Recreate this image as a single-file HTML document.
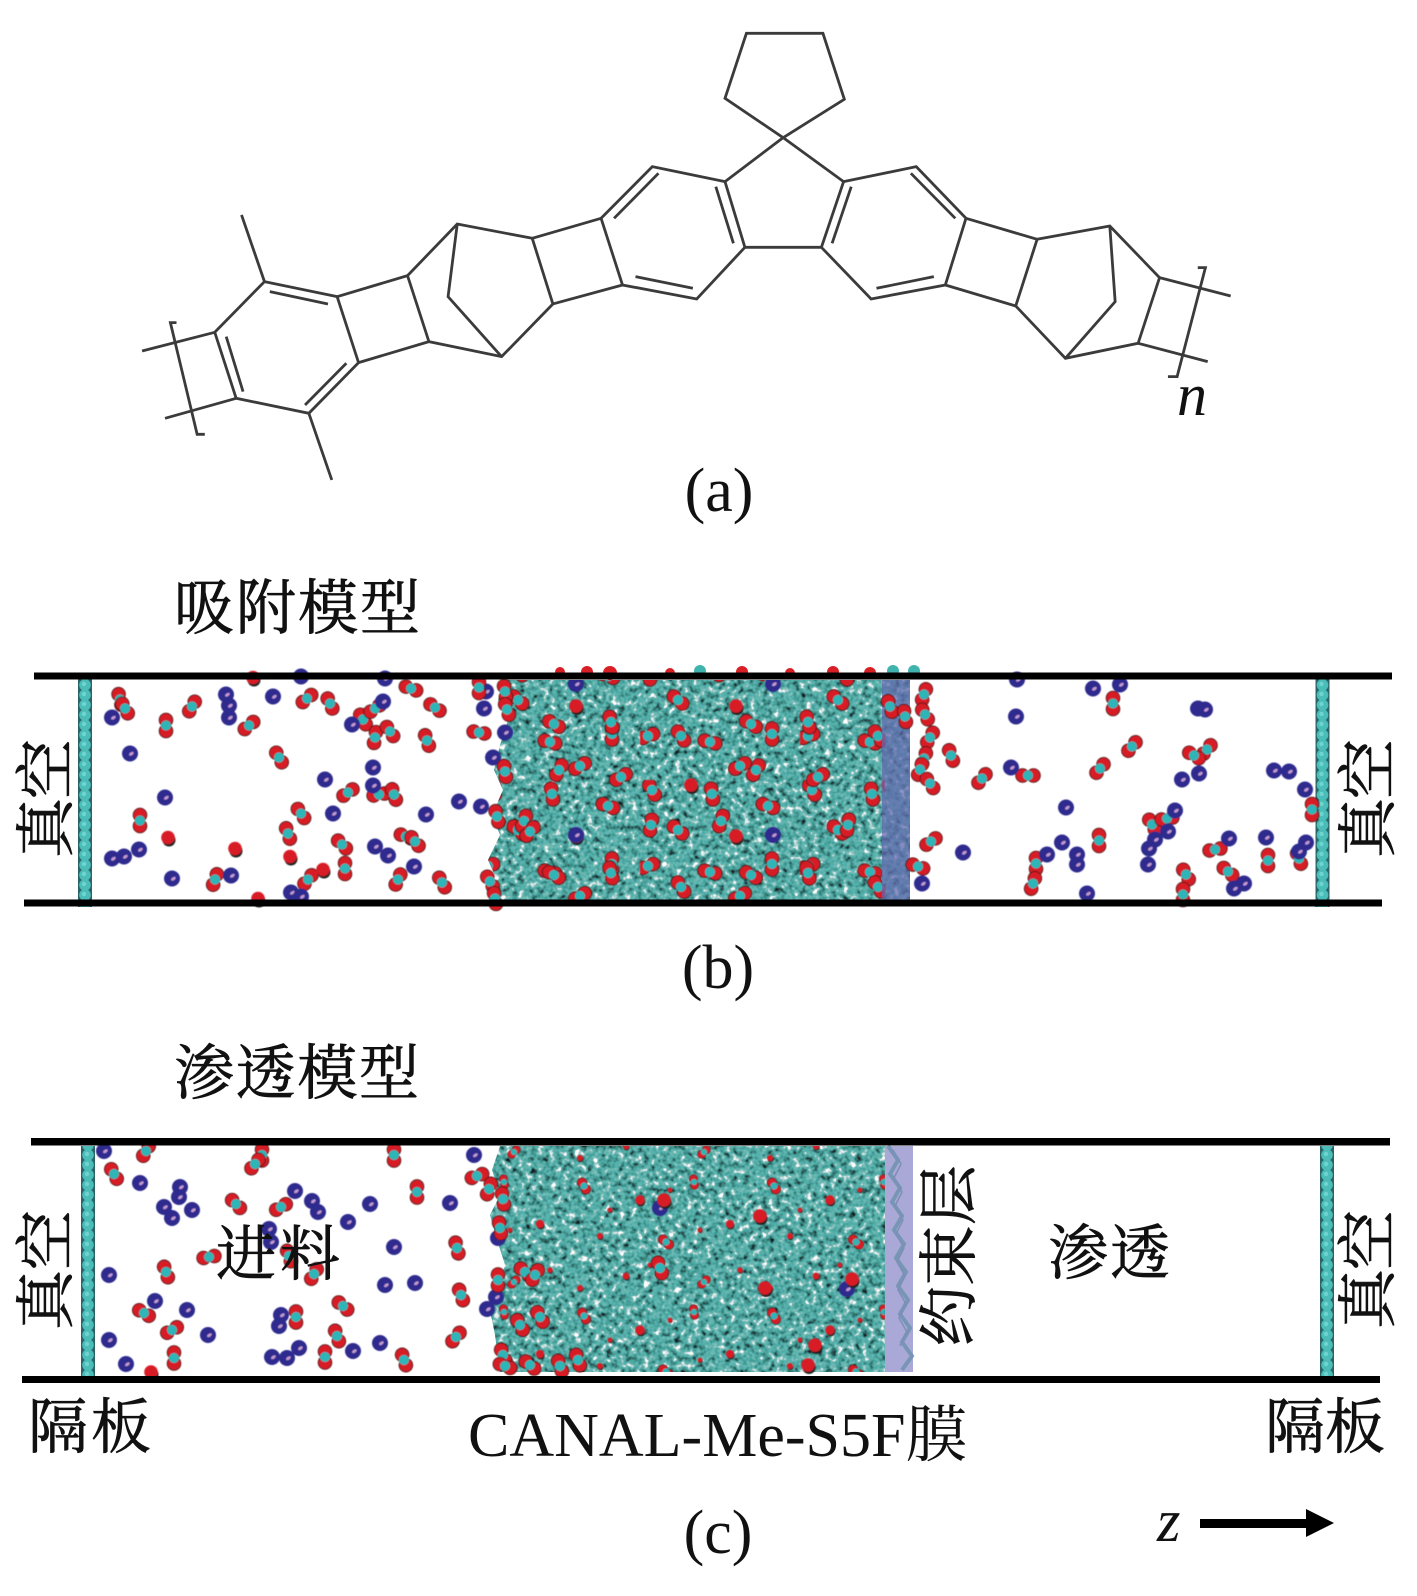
<!DOCTYPE html>
<html><head><meta charset="utf-8"><style>html,body{margin:0;padding:0;background:#fff}svg{display:block}
.s{font-family:"Liberation Serif","Noto Serif CJK SC",serif;fill:#111}
.z{font-size:60px;stroke:#111;stroke-width:.7px}</style></head><body>
<svg width="1417" height="1596" viewBox="0 0 1417 1596" xmlns="http://www.w3.org/2000/svg">
<defs>
<g id="c"><circle cx="-5.5" r="6.8" fill="#d81f26" stroke="#4a1414" stroke-width=".9"/><circle cx="5.5" r="6.8" fill="#d81f26" stroke="#4a1414" stroke-width=".9"/><circle r="5" fill="#2fb5b8"/></g>
<g id="n"><circle r="8" fill="#2e2a8e"/><ellipse cx="1" cy="1" rx="2.6" ry="1.5" fill="#c49ad0" transform="rotate(-35)"/></g>
<g id="r"><circle cx="1" cy="2.5" r="6.5" fill="#222"/><circle r="6.8" fill="#d81f26"/></g>
<filter id="bl" x="-2%" y="-2%" width="104%" height="104%"><feGaussianBlur stdDeviation=".55"/></filter>
<filter id="tex" x="0" y="0" width="100%" height="100%" color-interpolation-filters="sRGB">
<feTurbulence type="fractalNoise" baseFrequency=".16" numOctaves="2" seed="7"/>
<feColorMatrix type="matrix" values="1.3 0 0 0 -.18 1.3 0 0 0 -.18 1.3 0 0 0 -.18 0 0 0 0 1"/>
<feComponentTransfer><feFuncR type="table" tableValues=".08 .15 .22 .28 .34 .45 .8 1 1"/><feFuncG type="table" tableValues=".12 .3 .5 .62 .7 .72 .88 1 1"/><feFuncB type="table" tableValues=".14 .3 .48 .6 .68 .7 .88 1 1"/></feComponentTransfer>
</filter>
<pattern id="pb" width="160" height="130" patternUnits="userSpaceOnUse">
<use href="#c" transform="translate(12 10) rotate(60)"/><use href="#c" transform="translate(72 14) rotate(80)"/><use href="#c" transform="translate(128 26) rotate(20)"/>
<use href="#c" transform="translate(38 50) rotate(40)"/><use href="#r" x="96" y="56"/>
<use href="#c" transform="translate(8 86) rotate(-20)"/><use href="#c" transform="translate(70 92) rotate(15)"/><use href="#c" transform="translate(132 84) rotate(90)"/><use href="#c" transform="translate(100 116) rotate(-30)"/>
</pattern>
<pattern id="pb2" width="197" height="151" patternUnits="userSpaceOnUse">
<use href="#c" transform="translate(30 22) rotate(-30)"/><use href="#r" x="100" y="30"/><use href="#c" transform="translate(165 15) rotate(-60)"/>
<use href="#c" transform="translate(60 70) rotate(100)"/><use href="#c" transform="translate(130 66) rotate(-70)"/><use href="#n" x="182" y="80"/>
<use href="#c" transform="translate(20 118) rotate(75)"/><use href="#c" transform="translate(90 132) rotate(55)"/><use href="#c" transform="translate(160 120) rotate(30)"/>
</pattern>
<pattern id="pc" width="190" height="130" patternUnits="userSpaceOnUse">
<use href="#c" transform="translate(14 16) rotate(60) scale(.7)"/><use href="#r" transform="translate(70 30) scale(.7)"/><use href="#c" transform="translate(124 12) rotate(80) scale(.6)"/>
<use href="#r" transform="translate(30 66) scale(.45)"/><use href="#c" transform="translate(96 72) rotate(40) scale(.7)"/><use href="#r" transform="translate(160 54) scale(.6)"/>
<use href="#r" transform="translate(56 106) scale(.5)"/><use href="#c" transform="translate(134 112) rotate(-45) scale(.6)"/><use href="#r" transform="translate(10 118) scale(.45)"/><use href="#r" transform="translate(170 100) scale(.4)"/><use href="#r" transform="translate(100 20) scale(.35)"/><use href="#r" transform="translate(40 40) scale(.35)"/><use href="#r" transform="translate(130 60) scale(.35)"/><use href="#r" transform="translate(80 95) scale(.35)"/>
</pattern>
<pattern id="w" width="14" height="10" patternUnits="userSpaceOnUse"><rect width="14" height="10" fill="#2b6467"/><circle cx="7" cy="5" r="5.8" fill="#4bbdb8"/><circle cx="6" cy="4" r="2.2" fill="#6fd4cf"/></pattern>
<clipPath id="cb"><path d="M506 680L498 700L508 720L500 745L494 770L503 790L492 815L500 835L488 860L497 880L488 902H910V680Z"/></clipPath>
<clipPath id="cc"><path d="M500 1146L492 1170L500 1195L490 1215L497 1240L505 1265L498 1285L490 1310L495 1335L500 1372H913V1146Z"/></clipPath>
</defs>

<!-- (a) molecule -->
<g transform="translate(100 0) scale(.765 .3333)" fill="none" stroke="#3b3b3b" stroke-width="2.8" stroke-linejoin="miter">
<path vector-effect="non-scaling-stroke" d="M845 100H945L973 298L893 413L817 295Z"/>
<path vector-effect="non-scaling-stroke" d="M893 413L817 545L843 742H943L972 545L893 413"/>
<path vector-effect="non-scaling-stroke" d="M817 545L722 500L655 655L683 855L780 897L843 742"/>
<path vector-effect="non-scaling-stroke" d="M655 655L565 715L592 912L683 855"/>
<path vector-effect="non-scaling-stroke" d="M565 715L467 672L402 827L430 1025L525 1070L592 912"/>
<path vector-effect="non-scaling-stroke" d="M467 672L455 890L525 1070"/>
<path vector-effect="non-scaling-stroke" d="M402 827L310 890L338 1088L430 1025"/>
<path vector-effect="non-scaling-stroke" d="M310 890L215 845L150 997L178 1195L273 1240L338 1088"/>
<path vector-effect="non-scaling-stroke" d="M215 845L185 645M273 1240L303 1440M150 997L55 1053M178 1195L85 1255"/>
<path vector-effect="non-scaling-stroke" d="M972 545L1067 500L1132 655L1105 855L1008 897L943 742"/>
<path vector-effect="non-scaling-stroke" d="M1132 655L1225 718L1197 918L1105 855"/>
<path vector-effect="non-scaling-stroke" d="M1225 718L1320 678L1385 833L1357 1030L1262 1075L1197 918"/>
<path vector-effect="non-scaling-stroke" d="M1320 678L1327 905L1262 1075"/>
<path vector-effect="non-scaling-stroke" d="M1385 833L1478 888M1357 1030L1448 1085"/>
<path vector-effect="non-scaling-stroke" d="M730 520L672 655M805 560L828 730M700 830L775 865M1060 520L1118 655M982 560L957 730M1090 830L1015 865M298 912L222 875M322 1090L268 1215M165 1010L187 1175"/>
<path vector-effect="non-scaling-stroke" d="M100 968H92L127 1303H137M1435 803H1445L1408 1130H1396"/>
</g>
<text class="s" x="1177" y="415" font-size="60" font-style="italic">n</text>
<text class="s" x="719" y="511" font-size="62" text-anchor="middle">(a)</text>

<!-- (b) -->
<text class="s z" x="174" y="629" textLength="246">吸附模型</text>
<g transform="translate(78 0)"><rect y="679" width="14" height="228" fill="url(#w)"/></g>
<g transform="translate(1315.500 0)"><rect y="679" width="14" height="228" fill="url(#w)"/></g>
<g clip-path="url(#cb)"><rect x="485" y="678" width="426" height="226" fill="#5ab" filter="url(#tex)"/>
<rect x="485" y="678" width="400" height="226" fill="url(#pb)" filter="url(#bl)"/>
<rect x="485" y="678" width="400" height="226" fill="url(#pb2)" filter="url(#bl)"/>
<rect x="882" y="678" width="29" height="226" fill="#6468ae" opacity=".72"/></g>
<g filter="url(#bl)" transform="translate(0 1.500)">
<use href="#c" transform="translate(120 698) rotate(75)"/><use href="#c" transform="translate(125 707) rotate(60)"/><use href="#c" transform="translate(192 705) rotate(-60)"/><use href="#c" transform="translate(166 724) rotate(90)"/><use href="#c" transform="translate(249 724) rotate(-40)"/><use href="#c" transform="translate(307 697) rotate(-40)"/><use href="#c" transform="translate(330 702) rotate(65)"/><use href="#c" transform="translate(411 687) rotate(20)"/><use href="#c" transform="translate(435 706) rotate(35)"/><use href="#c" transform="translate(363 718) rotate(60)"/><use href="#c" transform="translate(375 707) rotate(-35)"/><use href="#c" transform="translate(375 736) rotate(-80)"/><use href="#c" transform="translate(390 730) rotate(55)"/><use href="#c" transform="translate(427 739) rotate(70)"/><use href="#c" transform="translate(479 731) rotate(10)"/><use href="#c" transform="translate(279 756) rotate(60)"/><use href="#c" transform="translate(348 791) rotate(-35)"/><use href="#c" transform="translate(379 793) rotate(-10)"/><use href="#c" transform="translate(394 793) rotate(70)"/><use href="#c" transform="translate(140 819) rotate(90)"/><use href="#c" transform="translate(301 812) rotate(55)"/><use href="#c" transform="translate(288 832) rotate(70)"/><use href="#c" transform="translate(342 843) rotate(45)"/><use href="#c" transform="translate(406 835) rotate(20)"/><use href="#c" transform="translate(415 840) rotate(50)"/><use href="#c" transform="translate(345 867) rotate(90)"/><use href="#c" transform="translate(308 878) rotate(-50)"/><use href="#c" transform="translate(442 881) rotate(60)"/><use href="#c" transform="translate(398 878) rotate(-65)"/><use href="#c" transform="translate(215 878) rotate(-70)"/>
<use href="#r" x="290" y="855"/><use href="#r" x="323" y="868"/><use href="#r" x="168" y="836"/><use href="#r" x="235" y="847"/><use href="#r" x="258" y="897"/><use href="#r" x="253" y="676"/>
<use href="#n" x="112" y="716"/><use href="#n" x="226" y="693"/><use href="#n" x="229" y="704"/><use href="#n" x="229" y="716"/><use href="#n" x="273" y="695"/><use href="#n" x="301" y="675"/><use href="#n" x="385" y="677"/><use href="#n" x="383" y="700"/><use href="#n" x="352" y="723"/><use href="#n" x="130" y="752"/><use href="#n" x="373" y="766"/><use href="#n" x="325" y="778"/><use href="#n" x="373" y="784"/><use href="#n" x="165" y="796"/><use href="#n" x="333" y="812"/><use href="#n" x="426" y="813"/><use href="#n" x="459" y="800"/><use href="#n" x="481" y="805"/><use href="#n" x="139" y="848"/><use href="#n" x="124" y="855"/><use href="#n" x="112" y="857"/><use href="#n" x="375" y="845"/><use href="#n" x="388" y="854"/><use href="#n" x="414" y="865"/><use href="#n" x="172" y="877"/><use href="#n" x="231" y="874"/><use href="#n" x="291" y="891"/><use href="#n" x="301" y="895"/><use href="#n" x="484" y="707"/><use href="#n" x="486" y="690"/><use href="#n" x="505" y="731"/><use href="#n" x="493" y="756"/>
<use href="#c" transform="translate(479 686) rotate(90)"/><use href="#c" transform="translate(505 690) rotate(80)"/><use href="#c" transform="translate(507 708) rotate(70)"/><use href="#c" transform="translate(505 770) rotate(80)"/><use href="#c" transform="translate(497 815) rotate(75)"/><use href="#c" transform="translate(530 830) rotate(-50)"/><use href="#c" transform="translate(490 880) rotate(60)"/><use href="#c" transform="translate(495 897) rotate(80)"/>
<use href="#c" transform="translate(924 693) rotate(-70)"/><use href="#c" transform="translate(925 713) rotate(60)"/><use href="#c" transform="translate(930 736) rotate(-60)"/><use href="#c" transform="translate(924 757) rotate(-70)"/><use href="#c" transform="translate(920 768) rotate(-70)"/><use href="#c" transform="translate(930 782) rotate(55)"/><use href="#c" transform="translate(951 754) rotate(70)"/><use href="#c" transform="translate(982 777) rotate(-50)"/><use href="#c" transform="translate(1028 774)"/><use href="#c" transform="translate(1100 767) rotate(-50)"/><use href="#c" transform="translate(1132 745) rotate(-50)"/><use href="#c" transform="translate(1113 702) rotate(90)"/><use href="#c" transform="translate(1207 748) rotate(-50)"/><use href="#c" transform="translate(1194 754) rotate(30)"/><use href="#c" transform="translate(1312 808) rotate(90)"/><use href="#c" transform="translate(931 840) rotate(-35)"/><use href="#c" transform="translate(1099 839) rotate(90)"/><use href="#c" transform="translate(1215 848) rotate(-10)"/><use href="#c" transform="translate(1268 859) rotate(90)"/><use href="#c" transform="translate(1299 857) rotate(70)"/><use href="#c" transform="translate(1228 870) rotate(40)"/><use href="#c" transform="translate(1186 873) rotate(60)"/><use href="#c" transform="translate(1036 862) rotate(90)"/><use href="#c" transform="translate(1033 882) rotate(-70)"/><use href="#c" transform="translate(1152 823) rotate(60)"/><use href="#c" transform="translate(1167 817) rotate(-10)"/><use href="#c" transform="translate(1183 893) rotate(90)"/><use href="#c" transform="translate(918 865) rotate(20)"/>
<use href="#n" x="1016" y="715"/><use href="#n" x="1093" y="687"/><use href="#n" x="1120" y="683"/><use href="#n" x="1198" y="707"/><use href="#n" x="1205" y="708"/><use href="#n" x="1011" y="766"/><use href="#n" x="1182" y="778"/><use href="#n" x="1199" y="772"/><use href="#n" x="1274" y="769"/><use href="#n" x="1289" y="770"/><use href="#n" x="1305" y="788"/><use href="#n" x="1066" y="806"/><use href="#n" x="1175" y="809"/><use href="#n" x="1168" y="830"/><use href="#n" x="1155" y="838"/><use href="#n" x="1149" y="847"/><use href="#n" x="1148" y="863"/><use href="#n" x="1062" y="841"/><use href="#n" x="1047" y="853"/><use href="#n" x="1077" y="853"/><use href="#n" x="1077" y="863"/><use href="#n" x="963" y="851"/><use href="#n" x="1229" y="837"/><use href="#n" x="1266" y="836"/><use href="#n" x="1306" y="841"/><use href="#n" x="1299" y="850"/><use href="#n" x="1244" y="882"/><use href="#n" x="1234" y="887"/><use href="#n" x="1087" y="892"/><use href="#n" x="922" y="882"/><use href="#n" x="1017" y="678"/>
<use href="#c" transform="translate(890 705) rotate(70)"/><use href="#c" transform="translate(905 715) rotate(80)"/>
</g>
<g fill="#d81f26"><circle cx="560" cy="672" r="5"/><circle cx="587" cy="672" r="6"/><circle cx="610" cy="673" r="7"/><circle cx="670" cy="673" r="5"/><circle cx="742" cy="672" r="6"/><circle cx="790" cy="673" r="5"/><circle cx="833" cy="672" r="6"/><circle cx="870" cy="673" r="6"/></g>
<g fill="#3fb4ae"><circle cx="893" cy="671" r="6"/><circle cx="914" cy="671" r="6"/><circle cx="700" cy="671" r="6"/></g>
<rect x="34" y="672.500" width="1358" height="7" fill="#000"/>
<rect x="24" y="899.500" width="1358" height="7" fill="#000"/>
<text class="s z" transform="translate(67 858) rotate(-90)" textLength="119">真空</text>
<text class="s z" transform="translate(1389 858) rotate(-90)" textLength="119">真空</text>
<text class="s" x="718" y="988" font-size="62" text-anchor="middle">(b)</text>

<!-- (c) -->
<text class="s z" x="174" y="1094" textLength="245">渗透模型</text>
<g transform="translate(81 0)"><rect y="1146" width="14" height="233" fill="url(#w)"/></g>
<g transform="translate(1320 0)"><rect y="1146" width="14" height="233" fill="url(#w)"/></g>
<g clip-path="url(#cc)"><rect x="485" y="1144" width="402" height="230" fill="#5ab" filter="url(#tex)"/>
<rect x="485" y="1144" width="400" height="230" fill="url(#pc)" filter="url(#bl)"/></g>
<rect x="885" y="1146" width="28" height="226" fill="#aaa8d6"/>
<path d="M888 1146l10 14-8 14 10 14-8 14 10 14-8 14 10 14-8 14 10 14-8 14 10 14-8 14 10 14-8 14 10 14-10 14" fill="none" stroke="#6f93b0" stroke-width="4" opacity=".85"/>
<path d="M893 1150l8 14-7 14 8 14-7 14 8 14-7 14 8 14-7 14 8 14-7 14 8 14-7 14 8 14-7 14" fill="none" stroke="#7d8fb6" stroke-width="1.500"/>
<g filter="url(#bl)">
<use href="#c" transform="translate(114 1174) rotate(60)"/><use href="#c" transform="translate(146 1151) rotate(-60)"/><use href="#c" transform="translate(262 1155) rotate(90)"/><use href="#c" transform="translate(255 1164) rotate(-50)"/><use href="#c" transform="translate(394 1155) rotate(90)"/><use href="#c" transform="translate(236 1204) rotate(45)"/><use href="#c" transform="translate(281 1207) rotate(-30)"/><use href="#c" transform="translate(417 1192) rotate(90)"/><use href="#c" transform="translate(209 1257) rotate(-10)"/><use href="#c" transform="translate(166 1272) rotate(70)"/><use href="#c" transform="translate(314 1274) rotate(-60)"/><use href="#c" transform="translate(289 1256) rotate(70)"/><use href="#c" transform="translate(457 1248) rotate(75)"/><use href="#c" transform="translate(296 1317) rotate(90)"/><use href="#c" transform="translate(144 1313) rotate(30)"/><use href="#c" transform="translate(343 1306) rotate(40)"/><use href="#c" transform="translate(172 1330) rotate(-30)"/><use href="#c" transform="translate(174 1358) rotate(90)"/><use href="#c" transform="translate(337 1336) rotate(70)"/><use href="#c" transform="translate(325 1357) rotate(90)"/><use href="#c" transform="translate(404 1360) rotate(70)"/><use href="#c" transform="translate(456 1337) rotate(-50)"/><use href="#c" transform="translate(461 1295) rotate(70)"/><use href="#c" transform="translate(477 1176) rotate(-20)"/><use href="#c" transform="translate(489 1189) rotate(-70)"/>
<use href="#r" x="151" y="1372"/>
<use href="#n" x="104" y="1151"/><use href="#n" x="140" y="1183"/><use href="#n" x="180" y="1187"/><use href="#n" x="179" y="1197"/><use href="#n" x="164" y="1207"/><use href="#n" x="172" y="1218"/><use href="#n" x="192" y="1210"/><use href="#n" x="295" y="1191"/><use href="#n" x="312" y="1201"/><use href="#n" x="318" y="1212"/><use href="#n" x="370" y="1204"/><use href="#n" x="450" y="1203"/><use href="#n" x="348" y="1222"/><use href="#n" x="269" y="1229"/><use href="#n" x="271" y="1242"/><use href="#n" x="394" y="1247"/><use href="#n" x="109" y="1275"/><use href="#n" x="385" y="1285"/><use href="#n" x="415" y="1283"/><use href="#n" x="155" y="1301"/><use href="#n" x="187" y="1310"/><use href="#n" x="281" y="1315"/><use href="#n" x="279" y="1326"/><use href="#n" x="208" y="1335"/><use href="#n" x="109" y="1340"/><use href="#n" x="126" y="1364"/><use href="#n" x="272" y="1357"/><use href="#n" x="287" y="1358"/><use href="#n" x="299" y="1348"/><use href="#n" x="353" y="1351"/><use href="#n" x="380" y="1343"/><use href="#n" x="474" y="1155"/><use href="#n" x="498" y="1238"/><use href="#n" x="496" y="1297"/><use href="#n" x="487" y="1309"/>
<use href="#c" transform="translate(503 1199) rotate(80)"/><use href="#c" transform="translate(500 1228) rotate(80)"/><use href="#c" transform="translate(498 1280) rotate(90)"/><use href="#c" transform="translate(503 1355) rotate(70)"/><use href="#c" transform="translate(505 1366) rotate(20)"/><use href="#c" transform="translate(525 1272) rotate(40)"/><use href="#c" transform="translate(535 1275) rotate(-60)"/><use href="#c" transform="translate(520 1325) rotate(60)"/><use href="#c" transform="translate(540 1317) rotate(60)"/><use href="#c" transform="translate(530 1365) rotate(40)"/><use href="#c" transform="translate(560 1366) rotate(70)"/><use href="#c" transform="translate(578 1360) rotate(70)"/>
<use href="#n" x="660" y="1208"/><use href="#n" x="847" y="1289"/><use href="#r" x="852" y="1279"/><use href="#r" x="664" y="1200"/><use href="#c" transform="translate(660 1268) rotate(70)"/><use href="#r" x="765" y="1288"/><use href="#r" x="815" y="1345"/><use href="#r" x="808" y="1365"/><use href="#r" x="760" y="1216"/>
</g>
<rect x="31" y="1138" width="1359" height="7.500" fill="#000"/>
<rect x="22" y="1376" width="1358" height="7" fill="#000"/>
<text class="s z" transform="translate(67 1330) rotate(-90)" textLength="120">真空</text>
<text class="s z" transform="translate(1389 1329) rotate(-90)" textLength="119">真空</text>
<text class="s z" transform="translate(970 1346) rotate(-90)" textLength="181">约束层</text>
<text class="s z" x="216" y="1275" textLength="124">进料</text>
<text class="s z" x="1048" y="1274" textLength="122">渗透</text>
<text class="s z" x="28" y="1448" textLength="123">隔板</text>
<text class="s z" x="1265" y="1448" textLength="120">隔板</text>
<text class="s" x="468" y="1456" font-size="62">CANAL-Me-S5F膜</text>
<text class="s" x="718" y="1553" font-size="62" text-anchor="middle">(c)</text>
<text class="s" x="1157" y="1541" font-size="60" font-style="italic">z</text>
<path d="M1200 1519H1306V1509L1334 1523L1306 1537V1528H1200Z" fill="#000"/>
</svg>
</body></html>
